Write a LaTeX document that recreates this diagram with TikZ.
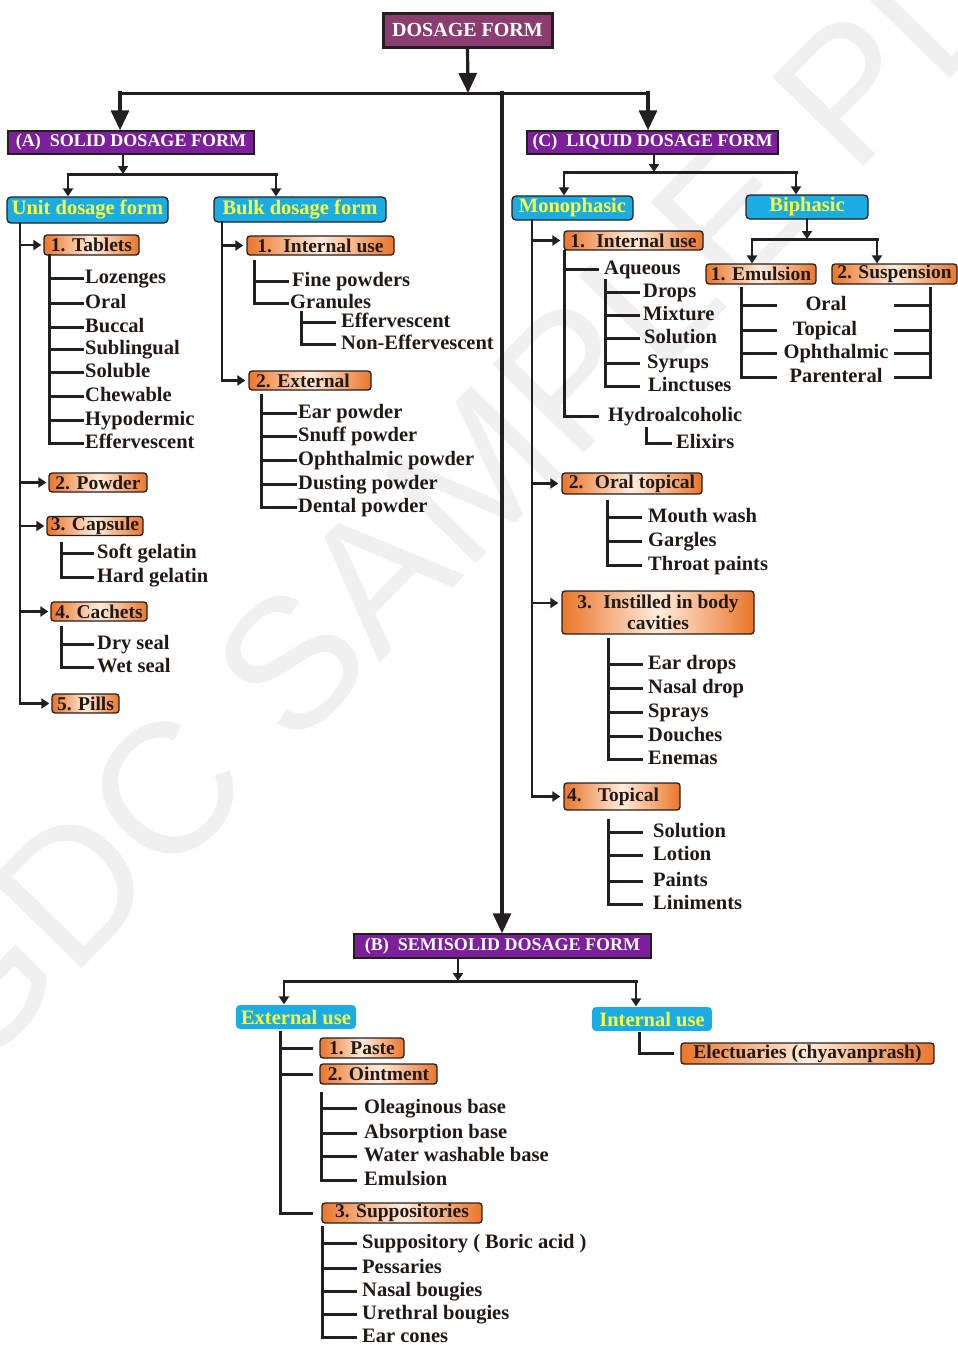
\documentclass[tikz,border=0pt]{standalone}
\usepackage{fontspec}
\setmainfont{Liberation Serif}
\newfontfamily\wmfont{Liberation Sans}
\usetikzlibrary{arrows.meta}
\definecolor{lc}{RGB}{35,31,32}
\definecolor{topc}{RGB}{139,60,112}
\definecolor{purc}{RGB}{123,31,154}
\definecolor{cyc}{RGB}{27,172,228}
\definecolor{yel}{RGB}{255,255,60}
\definecolor{orc}{RGB}{234,118,42}
\definecolor{orl}{RGB}{255,236,220}
\definecolor{txt}{RGB}{35,25,20}
\definecolor{wmc}{RGB}{240,240,240}
\tikzset{
  ln/.style={draw=lc, line width=3pt, line cap=rect},
  sarr/.style={draw=lc, line width=2.6pt, line cap=rect, -{Triangle[length=8pt,width=10pt]}},
  barr/.style={draw=lc, line width=3.2pt, line cap=rect, -{Triangle[length=20pt,width=18pt]}},
  topbox/.style={draw=lc, line width=3pt, fill=topc, text=white, inner sep=0pt, font=\fontsize{20}{22}\selectfont\bfseries},
  purbox/.style={draw=lc, line width=1.5pt, fill=purc, text=white, inner sep=0pt, font=\fontsize{18}{20}\selectfont\bfseries},
  cybox/.style={draw=lc, line width=1.3pt, rounded corners=4pt, fill=cyc, text=yel, inner sep=0pt, font=\fontsize{20.5}{22}\selectfont\bfseries},
  obox/.style={draw=lc, line width=1.3pt, rounded corners=3pt, left color=orc, right color=orc, middle color=orl, text=txt, inner sep=0pt, font=\fontsize{19.5}{21}\selectfont\bfseries, align=center},
  itm/.style={anchor=west, inner ysep=0pt, inner xsep=#1, text=txt, font=\fontsize{20.5}{22}\selectfont\bfseries, text height=12pt, text depth=2pt},
  itm/.default=4pt,
}
\begin{document}
\begin{tikzpicture}[x=1pt,y=-1pt]
\useasboundingbox (0,0) rectangle (958,1345);
\begin{scope}
\clip (0,0) rectangle (958,1345);
\node[rotate=45.7, anchor=west, text=wmc, inner sep=0pt, font=\wmfont\fontsize{185}{185}\selectfont] (wm) at (-75,1038) {GDC SAMPLE PDF};
\end{scope}

% ---------- main boxes
\node[topbox, minimum width=169pt, minimum height=34pt] (top) at (467.5,30) {DOSAGE FORM};
\node[purbox, minimum width=246pt, minimum height=23pt] (A) at (131,142.5) {(A)\enspace SOLID DOSAGE FORM};
\node[purbox, minimum width=251pt, minimum height=23pt] (C) at (652.5,142.5) {(C)\enspace LIQUID DOSAGE FORM};
\node[purbox, minimum width=297pt, minimum height=24pt] (B) at (502.5,946) {(B)\enspace SEMISOLID DOSAGE FORM};

\node[cybox, minimum width=161pt, minimum height=26pt] (unit) at (87.5,210) {Unit dosage form};
\node[cybox, minimum width=172pt, minimum height=25pt] (bulk) at (300,209.5) {Bulk dosage form};
\node[cybox, minimum width=121pt, minimum height=24pt] (mono) at (572.5,208) {Monophasic};
\node[cybox, minimum width=122pt, minimum height=24pt] (bi) at (807,207) {Biphasic};
\node[cybox, draw=none, minimum width=120pt, minimum height=24pt] (extu) at (296,1017) {External use};
\node[cybox, draw=none, minimum width=120pt, minimum height=24pt] (intu) at (652,1019) {Internal use};

\node[obox, minimum width=95pt, minimum height=20pt] (tab) at (91.5,245) {1. Tablets};
\node[obox, minimum width=98pt, minimum height=19pt] (pow) at (98,482.5) {2. Powder};
\node[obox, minimum width=96pt, minimum height=19pt] (cap) at (95,526) {3. Capsule};
\node[obox, minimum width=96pt, minimum height=19pt] (cach) at (99,611.5) {4. Cachets};
\node[obox, minimum width=67pt, minimum height=19pt] (pill) at (85.5,703.5) {5. Pills};
\node[obox, minimum width=147pt, minimum height=19pt] (bint) at (320.5,245.5) {1.~ Internal use};
\node[obox, minimum width=122pt, minimum height=19pt] (bext) at (310,380.5) {2. External\hspace*{14pt}};
\node[obox, minimum width=139pt, minimum height=19pt] (lint) at (633.5,240.5) {1.~ Internal use};
\node[obox, minimum width=110pt, minimum height=20pt] (emul) at (761,274) {1. Emulsion};
\node[obox, minimum width=125pt, minimum height=20pt] (susp) at (894.5,274) {2. Suspension};
\node[obox, minimum width=140pt, minimum height=21pt] (ot) at (632,483.5) {2.~ Oral topical};
\node[obox, minimum width=192pt, minimum height=43pt] (inst) at (658,612.5) {3.~ Instilled in body\\cavities};
\node[obox, minimum width=116pt, minimum height=27pt] (topi) at (622,796.5) {4.~~ Topical\hspace*{18pt}};
\node[obox, minimum width=84pt, minimum height=20pt] (paste) at (362,1048) {1. Paste};
\node[obox, minimum width=117pt, minimum height=20pt] (oint) at (378.5,1074) {2. Ointment};
\node[obox, minimum width=160pt, minimum height=20pt] (supp) at (402,1213) {3. Suppositories};
\node[obox, minimum width=253pt, minimum height=21pt] (elec) at (807.5,1053.5) {Electuaries (chyavanprash)};

% ---------- main connectors
\coordinate (j0) at (468,93);
\coordinate (jA) at (120,93);
\coordinate (jC) at (648,93);
\coordinate (jB) at (502,93);
\draw[barr] (top.south) -- (j0);
\draw[ln] (jA) -- (jC);
\draw[barr] (jA) -- (jA |- A.north);
\draw[barr] (jC) -- (jC |- C.north);
\draw[barr] (jB) -- (jB |- B.north);

% under A
\coordinate (a0) at (123,174); \coordinate (aU) at (68,174); \coordinate (aB) at (276,174);
\draw[sarr] (A.south -| a0) -- (a0);
\draw[ln] (aU) -- (aB);
\draw[sarr] (aU) -- (aU |- unit.north);
\draw[sarr] (aB) -- (aB |- bulk.north);

% under C
\coordinate (c0) at (654,172); \coordinate (cM) at (564,172); \coordinate (cB) at (796,172);
\draw[sarr] (C.south -| c0) -- (c0);
\draw[ln] (cM) -- (cB);
\draw[sarr] (cM) -- (cM |- mono.north);
\draw[sarr] (cB) -- (cB |- bi.north);

% under Biphasic
\coordinate (b0) at (807,239); \coordinate (bE) at (752,239); \coordinate (bS) at (877,239);
\draw[sarr] (bi.south -| b0) -- (b0);
\draw[ln] (bE) -- (bS);
\draw[sarr] (bE) -- (bE |- emul.north);
\draw[sarr] (bS) -- (bS |- susp.north);

% under B
\coordinate (s0) at (458,981); \coordinate (sE) at (284,981); \coordinate (sI) at (636,981);
\draw[sarr] (B.south -| s0) -- (s0);
\draw[ln] (sE) -- (sI);
\draw[sarr] (sE) -- (sE |- extu.north);
\draw[sarr] (sI) -- (sI |- intu.north);

% ---------- unit dosage spine
\coordinate (us) at (20,223);
\draw[sarr] (us) |- ([xshift=-2pt]pill.west);
\draw[sarr] (us |- tab.west) -- ([xshift=-2pt]tab.west);
\draw[sarr] (us |- pow.west) -- ([xshift=-2pt]pow.west);
\draw[sarr] (us |- cap.west) -- ([xshift=-2pt]cap.west);
\draw[sarr] (us |- cach.west) -- ([xshift=-2pt]cach.west);

% tablets list
\coordinate (ts) at (49,255);
\foreach \n/\t/\y in {1/Lozenges/278, 2/Oral/303, 3/Buccal/327, 4/Sublingual/349, 5/Soluble/372, 6/Chewable/396, 7/Hypodermic/420, 8/Effervescent/443}{
  \node[itm=3pt] (t\n) at (82,\y) {\t};
  \draw[ln] (ts |- t\n.west) -- (t\n.west);
}
\draw[ln] (ts) -- (ts |- t8.west);

% capsule list
\coordinate (cs) at (61,543);
\node[itm=5pt] (cp1) at (92,553) {Soft gelatin};
\node[itm=5pt] (cp2) at (92,577) {Hard gelatin};
\draw[ln] (cs) |- (cp2.west);
\draw[ln] (cs |- cp1.west) -- (cp1.west);

% cachets list
\coordinate (chs) at (61,627);
\node[itm=5pt] (ch1) at (92,644) {Dry seal};
\node[itm=5pt] (ch2) at (92,667) {Wet seal};
\draw[ln] (chs) |- (ch2.west);
\draw[ln] (chs |- ch1.west) -- (ch1.west);

% ---------- bulk spine
\coordinate (bs) at (222,222);
\draw[sarr] (bs) |- ([xshift=-3pt]bext.west);
\draw[sarr] (bs |- bint.west) -- ([xshift=-3pt]bint.west);

\coordinate (bis) at (254,261);
\node[itm=5pt] (bi1) at (287,281) {Fine powders};
\node[itm=3pt] (bi2) at (287,303) {Granules};
\draw[ln] (bis) |- (bi2.west);
\draw[ln] (bis |- bi1.west) -- (bi1.west);

\coordinate (gs) at (301,312);
\node[itm=7pt] (g1) at (334,322) {Effervescent};
\node[itm=7pt] (g2) at (334,344) {Non-Effervescent};
\draw[ln] (gs) |- (g2.west);
\draw[ln] (gs |- g1.west) -- (g1.west);

\coordinate (xs) at (261,395);
\foreach \n/\t/\y in {1/Ear powder/413, 2/Snuff powder/436, 3/Ophthalmic powder/460, 4/Dusting powder/484, 5/Dental powder/507}{
  \node[itm=3pt] (x\n) at (295,\y) {\t};
  \draw[ln] (xs |- x\n.west) -- (x\n.west);
}
\draw[ln] (xs) -- (xs |- x5.west);

% ---------- monophasic spine
\coordinate (ms) at (532,220);
\coordinate (instA) at ([yshift=9.5pt]inst.west);
\draw[sarr] (ms) |- ([xshift=-3pt]topi.west);
\draw[sarr] (ms |- lint.west) -- ([xshift=-3pt]lint.west);
\draw[sarr] (ms |- ot.west) -- ([xshift=-3pt]ot.west);
\draw[sarr] (ms |- instA) -- ([xshift=-3pt]instA);

\coordinate (lis) at (564,251);
\node[itm=7pt] (aq) at (597,269) {Aqueous};
\node[itm=11pt] (hy) at (597,416) {Hydroalcoholic};
\draw[ln] (lis) |- (hy.west);
\draw[ln] (lis |- aq.west) -- (aq.west);

\coordinate (aqs) at (605,280);
\foreach \n/\t/\y/\s in {1/Drops/292/5pt, 2/Mixture/315/5pt, 3/Solution/338/6pt, 4/Syrups/363/9pt, 5/Linctuses/386/10pt}{
  \node[itm=\s] (aq\n) at (638,\y) {\t};
  \draw[ln] (aqs |- aq\n.west) -- (aq\n.west);
}
\draw[ln] (aqs) -- (aqs |- aq5.west);

\coordinate (hys) at (646,428);
\node[itm=6pt] (el) at (670,443) {Elixirs};
\draw[ln] (hys) |- (el.west);

\coordinate (es) at (741,288); \coordinate (ss) at (930,288);
\foreach \n/\t/\y/\x in {1/Oral/305/826, 2/Topical/330/825, 3/Ophthalmic/353/836, 4/Parenteral/377/836}{
  \node[itm=0pt, anchor=center] (bp\n) at (\x,\y) {\t};
  \draw[ln] (es |- bp\n) -- ++(34,0);
  \draw[ln] (ss |- bp\n) -- ++(-35,0);
}
\draw[ln] (es) -- (es |- bp4);
\draw[ln] (ss) -- (ss |- bp4);

\coordinate (ots) at (607,501);
\foreach \n/\t/\y in {1/Mouth wash/517, 2/Gargles/541, 3/Throat paints/565}{
  \node[itm=8pt] (o\n) at (640,\y) {\t};
  \draw[ln] (ots |- o\n.west) -- (o\n.west);
}
\draw[ln] (ots) -- (ots |- o3.west);

\coordinate (ins) at (608,639);
\foreach \n/\t/\y in {1/Ear drops/664, 2/Nasal drop/688, 3/Sprays/712, 4/Douches/736, 5/Enemas/759}{
  \node[itm=7pt] (i\n) at (641,\y) {\t};
  \draw[ln] (ins |- i\n.west) -- (i\n.west);
}
\draw[ln] (ins) -- (ins |- i5.west);

\coordinate (tps) at (608,820);
\foreach \n/\t/\y in {1/Solution/832, 2/Lotion/855, 3/Paints/881, 4/Liniments/904}{
  \node[itm=12pt] (tp\n) at (641,\y) {\t};
  \draw[ln] (tps |- tp\n.west) -- (tp\n.west);
}
\draw[ln] (tps) -- (tps |- tp4.west);

% ---------- semisolid
\coordinate (exs) at (280,1032);
\draw[ln] (exs) |- ([xshift=-10pt]supp.west);
\draw[ln] (exs |- paste.west) -- ([xshift=-8pt]paste.west);
\draw[ln] (exs |- oint.west) -- ([xshift=-8pt]oint.west);

\coordinate (ins2) at (639,1033);
\draw[ln] (ins2) |- ([xshift=-8pt]elec.west);

\coordinate (ois) at (321,1093);
\foreach \n/\t/\y in {1/Oleaginous base/1108, 2/Absorption base/1133, 3/Water washable base/1156, 4/Emulsion/1180}{
  \node[itm=9pt] (ob\n) at (355,\y) {\t};
  \draw[ln] (ois |- ob\n.west) -- (ob\n.west);
}
\draw[ln] (ois) -- (ois |- ob4.west);

\coordinate (sps) at (322,1227);
\foreach \n/\t/\y in {1/Suppository ( Boric acid )/1243, 2/Pessaries/1268, 3/Nasal bougies/1291, 4/Urethral bougies/1314, 5/Ear cones/1337}{
  \node[itm=7pt] (sp\n) at (355,\y) {\t};
  \draw[ln] (sps |- sp\n.west) -- (sp\n.west);
}
\draw[ln] (sps) -- (sps |- sp5.west);
\end{tikzpicture}
\end{document}
